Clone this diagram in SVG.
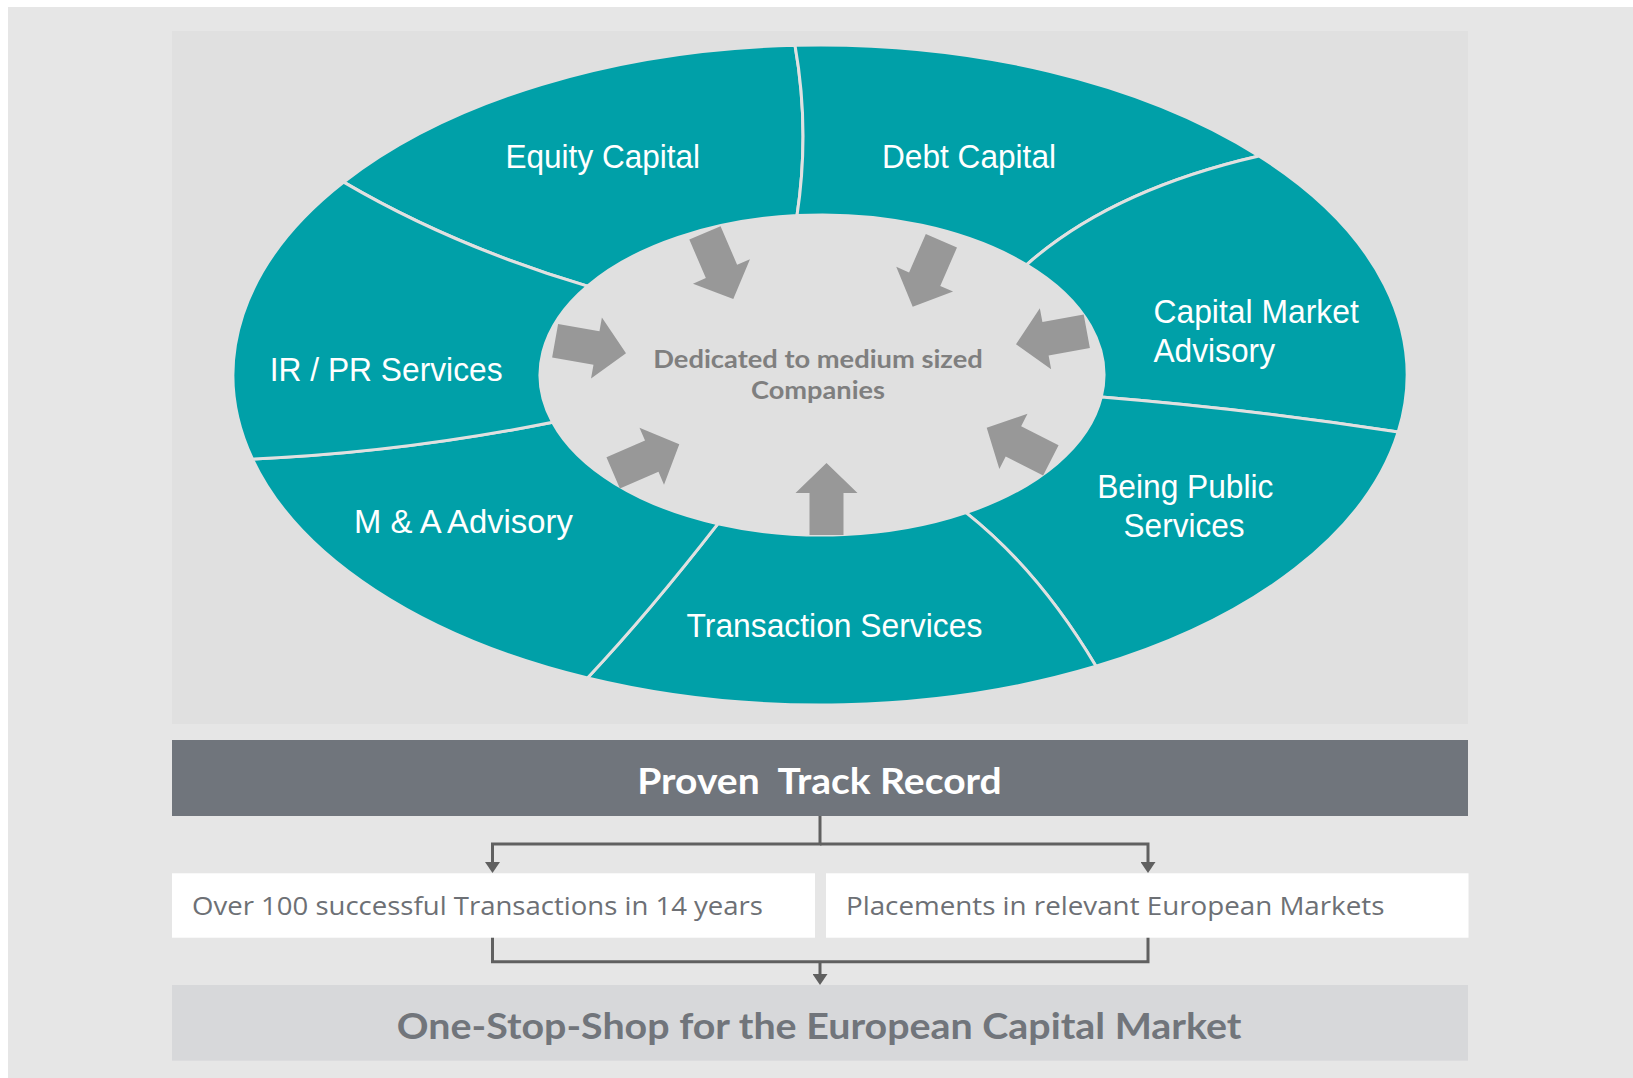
<svg xmlns="http://www.w3.org/2000/svg" xmlns:xlink="http://www.w3.org/1999/xlink" width="1633" height="1078" viewBox="0 0 1633 1078">
  <style>
    .seg { fill: #00A0A8; stroke: #E0E0E0; stroke-width: 3; stroke-linejoin: round; }
    .seglbl { font-family: "Liberation Sans", Arial, sans-serif; font-size: 32.5px; fill: #FFFFFF; }
    .arrow { fill: #989898; }
    .center { font-family: Lato, "Open Sans", sans-serif; font-weight: bold; font-size: 25.5px; fill: #7F7F7F; }
    .conn { fill: none; stroke: #606060; stroke-width: 3; }
    .boxtxt { font-family: "Open Sans", Lato, sans-serif; font-size: 25px; fill: #6D7075; }
  </style>
  <defs>
    <path id="arr" d="M0,0 L31,30 L17,30 L17,72 L-17,72 L-17,30 L-31,30 Z"/>
    <marker id="ah" viewBox="0 0 11 15" markerWidth="11" markerHeight="15" refX="5" refY="7.5" orient="auto" markerUnits="userSpaceOnUse" preserveAspectRatio="none">
      <path d="M0,0 L11,7.5 L0,15 Z" fill="#606060"/>
    </marker>
  </defs>

  <rect x="0" y="0" width="1633" height="1078" fill="#FFFFFF"/>
  <rect x="8" y="7" width="1625" height="1071" fill="#E6E6E6"/>
  <rect x="172" y="31" width="1296" height="693" fill="#E0E0E0"/>

  <g id="equity-capital">
    <path class="seg" d="M343.7,182.1 A587,330 0 0 1 795,45.3 Q810,130 797,215.6 A282,160 0 0 0 587.5,286.1 Q452.4,245.9 343.7,182.1 Z"/>
    <text class="seglbl" x="505.5" y="167.7" textLength="194.6" lengthAdjust="spacingAndGlyphs">Equity Capital</text>
  </g>
  <g id="debt-capital">
    <path class="seg" d="M795,45.3 A587,330 0 0 1 1259,156 Q1111,190 1026.5,264.8 A282,160 0 0 0 797,215.6 Q810,130 795,45.3 Z"/>
    <text class="seglbl" x="882" y="167.7" textLength="174" lengthAdjust="spacingAndGlyphs">Debt Capital</text>
  </g>
  <g id="capital-market-advisory">
    <path class="seg" d="M1259,156 A587,330 0 0 1 1398.2,432 Q1249,409 1101.3,397 A282,160 0 0 0 1026.5,264.8 Q1111,190 1259,156 Z"/>
    <text class="seglbl" x="1153.4" y="323.3" textLength="205.5" lengthAdjust="spacingAndGlyphs">Capital Market</text>
    <text class="seglbl" x="1153.4" y="361.7" textLength="121.6" lengthAdjust="spacingAndGlyphs">Advisory</text>
  </g>
  <g id="being-public-services">
    <path class="seg" d="M1398.2,432 A587,330 0 0 1 1096,666.3 Q1039,570.5 966,512.6 A282,160 0 0 0 1101.3,397 Q1249,409 1398.2,432 Z"/>
    <text class="seglbl" x="1097.2" y="498.3" textLength="176.2" lengthAdjust="spacingAndGlyphs">Being Public</text>
    <text class="seglbl" x="1123.6" y="536.7" textLength="120.9" lengthAdjust="spacingAndGlyphs">Services</text>
  </g>
  <g id="transaction-services">
    <path class="seg" d="M1096,666.3 A587,330 0 0 1 587.5,678 Q649,612.5 718,523.7 A282,160 0 0 0 966,512.6 Q1039,570.5 1096,666.3 Z"/>
    <text class="seglbl" x="686.6" y="636.7" textLength="295.7" lengthAdjust="spacingAndGlyphs">Transaction Services</text>
  </g>
  <g id="ma-advisory">
    <path class="seg" d="M587.5,678 A587,330 0 0 1 252.4,459 Q399.5,452.8 552.6,422.3 A282,160 0 0 0 718,523.7 Q649,612.5 587.5,678 Z"/>
    <text class="seglbl" x="354" y="533.3" textLength="218.8" lengthAdjust="spacingAndGlyphs">M &amp; A Advisory</text>
  </g>
  <g id="ir-pr-services">
    <path class="seg" d="M252.4,459 A587,330 0 0 1 343.7,182.1 Q452.4,245.9 587.5,286.1 A282,160 0 0 0 552.6,422.3 Q399.5,452.8 252.4,459 Z"/>
    <text class="seglbl" x="269.8" y="381" textLength="232.7" lengthAdjust="spacingAndGlyphs">IR / PR Services</text>
  </g>

  <g id="core">
    <ellipse cx="822" cy="375" rx="282" ry="160" fill="#E0E0E0"/>
    <text class="center" x="653.3" y="368.3" textLength="329.4" lengthAdjust="spacingAndGlyphs">Dedicated to medium sized</text>
    <text class="center" x="751" y="398.8" textLength="134" lengthAdjust="spacingAndGlyphs">Companies</text>
  </g>

  <g id="track-record">
    <rect x="172" y="740" width="1296" height="76" fill="#70757C"/>
    <text x="637.3" y="794.3" xml:space="preserve" font-family="Lato, 'Open Sans', sans-serif" font-weight="bold" font-size="37" fill="#FFFFFF" textLength="364.4" lengthAdjust="spacingAndGlyphs">Proven  Track Record</text>
  </g>
  <g id="transactions">
    <rect x="172" y="873.3" width="643" height="64.4" fill="#FFFFFF"/>
    <text class="boxtxt" x="192" y="915" textLength="571" lengthAdjust="spacingAndGlyphs">Over 100 successful Transactions in 14 years</text>
  </g>
  <g id="placements">
    <rect x="826" y="873.3" width="642.5" height="64.4" fill="#FFFFFF"/>
    <text class="boxtxt" x="846" y="915" textLength="538.4" lengthAdjust="spacingAndGlyphs">Placements in relevant European Markets</text>
  </g>
  <g id="one-stop-shop">
    <rect x="172" y="985" width="1296" height="75.7" fill="#D7D8DA"/>
    <text x="396.8" y="1039.3" font-family="Lato, 'Open Sans', sans-serif" font-weight="bold" font-size="36.4" fill="#71757B" textLength="844.7" lengthAdjust="spacingAndGlyphs">One-Stop-Shop for the European Capital Market</text>
  </g>

  <g id="connectors">
    <use class="arrow" xlink:href="#arr" href="#arr" transform="translate(733.3,299) rotate(156.8)"/>
    <use class="arrow" xlink:href="#arr" href="#arr" transform="translate(912.7,306.7) rotate(203.5)"/>
    <use class="arrow" xlink:href="#arr" href="#arr" transform="translate(1016,344.3) rotate(259.5)"/>
    <use class="arrow" xlink:href="#arr" href="#arr" transform="translate(986.7,427.7) rotate(-63)"/>
    <use class="arrow" xlink:href="#arr" href="#arr" transform="translate(826.5,463) rotate(0)"/>
    <use class="arrow" xlink:href="#arr" href="#arr" transform="translate(679.3,444.3) rotate(66.7)"/>
    <use class="arrow" xlink:href="#arr" href="#arr" transform="translate(626,353.3) rotate(100.1)"/>
    <path class="conn" d="M820,816 V844 H492.5 V867" marker-end="url(#ah)"/>
    <path class="conn" d="M820,844 H1148 V867" marker-end="url(#ah)"/>
    <path class="conn" d="M492.5,937.7 V961.7 H1148 V937.7"/>
    <path class="conn" d="M820,961.7 V979" marker-end="url(#ah)"/>
  </g>
</svg>
